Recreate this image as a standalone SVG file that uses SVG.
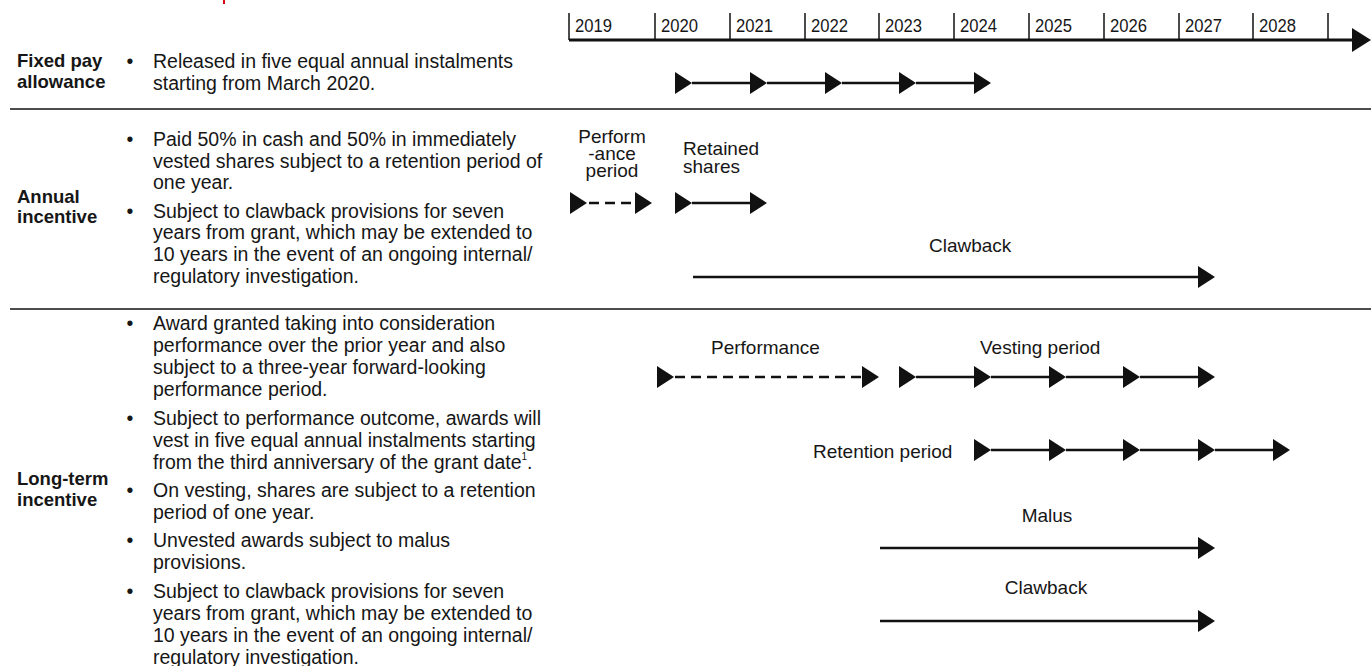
<svg xmlns="http://www.w3.org/2000/svg" xmlns:xlink="http://www.w3.org/1999/xlink" width="1371" height="666" viewBox="0 0 1371 666">
<style>
text{font-family:"Liberation Sans",Arial,Helvetica,sans-serif;fill:#161616}
.b{font-size:19.5px}
.h{font-size:18.5px;font-weight:bold}
.l{font-size:19px}
.y{font-size:18px}
.sep{stroke:#4d4d4d;stroke-width:2}
.ax{stroke:#111;stroke-width:3;fill:none}
.tk{stroke:#111;stroke-width:1.5}
.ln{stroke:#111;stroke-width:2.6;fill:none}
.ds{stroke:#111;stroke-width:2.6;fill:none;stroke-dasharray:10 6}
.hd{fill:#111}
</style>
<defs>
<path id="ah" d="M0,-11 L17,0 L0,11 Z"/>
</defs>
<rect x="223" y="0" width="2" height="4" fill="#db0011"/>
<g id="timeline">
<line class="ax" x1="569" y1="40" x2="1354" y2="40"/>
<polygon class="hd" points="1352,28 1371,40 1352,52"/>
<g class="tk">
<line x1="569" y1="13" x2="569" y2="40"/><line x1="655" y1="13" x2="655" y2="40"/><line x1="730" y1="13" x2="730" y2="40"/><line x1="805" y1="13" x2="805" y2="40"/><line x1="879" y1="13" x2="879" y2="40"/><line x1="954" y1="13" x2="954" y2="40"/><line x1="1029" y1="13" x2="1029" y2="40"/><line x1="1104" y1="13" x2="1104" y2="40"/><line x1="1179" y1="13" x2="1179" y2="40"/><line x1="1253" y1="13" x2="1253" y2="40"/><line x1="1328" y1="13" x2="1328" y2="40"/>
</g>
<g class="y">
<text x="575" y="32" textLength="37" lengthAdjust="spacingAndGlyphs">2019</text>
<text x="661" y="32" textLength="37" lengthAdjust="spacingAndGlyphs">2020</text>
<text x="736" y="32" textLength="37" lengthAdjust="spacingAndGlyphs">2021</text>
<text x="811" y="32" textLength="37" lengthAdjust="spacingAndGlyphs">2022</text>
<text x="885" y="32" textLength="37" lengthAdjust="spacingAndGlyphs">2023</text>
<text x="960" y="32" textLength="37" lengthAdjust="spacingAndGlyphs">2024</text>
<text x="1035" y="32" textLength="37" lengthAdjust="spacingAndGlyphs">2025</text>
<text x="1110" y="32" textLength="37" lengthAdjust="spacingAndGlyphs">2026</text>
<text x="1185" y="32" textLength="37" lengthAdjust="spacingAndGlyphs">2027</text>
<text x="1259" y="32" textLength="37" lengthAdjust="spacingAndGlyphs">2028</text>
</g>
</g>
<line class="sep" x1="10" y1="109" x2="1371" y2="109"/>
<line class="sep" x1="10" y1="309" x2="1371" y2="309"/>
<g id="fixed-pay">
<text class="h" x="17" y="67">Fixed pay</text>
<text class="h" x="17" y="88">allowance</text>
<text class="b" x="130" y="68" text-anchor="middle">•</text>
<text class="b" x="153" y="68">Released in five equal annual instalments</text>
<text class="b" x="153" y="90">starting from March 2020.</text>
</g>
<g id="annual-incentive">
<text class="h" x="17" y="203">Annual</text>
<text class="h" x="17" y="223">incentive</text>
<text class="b" x="130" y="146" text-anchor="middle">•</text>
<text class="b" x="153" y="146">Paid 50% in cash and 50% in immediately</text>
<text class="b" x="153" y="167.5">vested shares subject to a retention period of</text>
<text class="b" x="153" y="189">one year.</text>
<text class="b" x="130" y="217.5" text-anchor="middle">•</text>
<text class="b" x="153" y="217.5">Subject to clawback provisions for seven</text>
<text class="b" x="153" y="239">years from grant, which may be extended to</text>
<text class="b" x="153" y="261">10 years in the event of an ongoing internal/</text>
<text class="b" x="153" y="282.5">regulatory investigation.</text>
<text class="l" x="612" y="143" text-anchor="middle">Perform</text>
<text class="l" x="612" y="160" text-anchor="middle">-ance</text>
<text class="l" x="612" y="177" text-anchor="middle">period</text>
<text class="l" x="683" y="155">Retained</text>
<text class="l" x="683" y="173">shares</text>
<text class="l" x="929" y="252">Clawback</text>
</g>
<g id="long-term-incentive">
<text class="h" x="17" y="485">Long-term</text>
<text class="h" x="17" y="506">incentive</text>
<text class="b" x="130" y="330" text-anchor="middle">•</text>
<text class="b" x="153" y="330">Award granted taking into consideration</text>
<text class="b" x="153" y="352">performance over the prior year and also</text>
<text class="b" x="153" y="374">subject to a three-year forward-looking</text>
<text class="b" x="153" y="396">performance period.</text>
<text class="b" x="130" y="425" text-anchor="middle">•</text>
<text class="b" x="153" y="425">Subject to performance outcome, awards will</text>
<text class="b" x="153" y="447">vest in five equal annual instalments starting</text>
<text class="b" x="153" y="469">from the third anniversary of the grant date<tspan font-size="10" dy="-9">1</tspan><tspan dy="9">.</tspan></text>
<text class="b" x="130" y="497" text-anchor="middle">•</text>
<text class="b" x="153" y="497">On vesting, shares are subject to a retention</text>
<text class="b" x="153" y="519">period of one year.</text>
<text class="b" x="130" y="547" text-anchor="middle">•</text>
<text class="b" x="153" y="547">Unvested awards subject to malus</text>
<text class="b" x="153" y="568.5">provisions.</text>
<text class="b" x="130" y="598" text-anchor="middle">•</text>
<text class="b" x="153" y="598">Subject to clawback provisions for seven</text>
<text class="b" x="153" y="620">years from grant, which may be extended to</text>
<text class="b" x="153" y="642">10 years in the event of an ongoing internal/</text>
<text class="b" x="153" y="663.5">regulatory investigation.</text>
<text class="l" x="711" y="354">Performance</text>
<text class="l" x="980" y="354">Vesting period</text>
<text class="l" x="813" y="458">Retention period</text>
<text class="l" x="1047" y="522" text-anchor="middle">Malus</text>
<text class="l" x="1046" y="594" text-anchor="middle">Clawback</text>
</g>
<g id="connectors">
<g class="ln">
<line x1="692" y1="83" x2="750" y2="83"/><line x1="767" y1="83" x2="825" y2="83"/><line x1="842" y1="83" x2="899" y2="83"/><line x1="916" y1="83" x2="974" y2="83"/>
<line x1="692" y1="203" x2="750" y2="203"/>
<line x1="693" y1="277" x2="1199" y2="277"/>
<line x1="916" y1="377" x2="974" y2="377"/><line x1="991" y1="377" x2="1049" y2="377"/><line x1="1066" y1="377" x2="1123" y2="377"/><line x1="1140" y1="377" x2="1198" y2="377"/>
<line x1="991" y1="450" x2="1049" y2="450"/><line x1="1066" y1="450" x2="1123" y2="450"/><line x1="1140" y1="450" x2="1198" y2="450"/><line x1="1215" y1="450" x2="1273" y2="450"/>
<line x1="880" y1="548" x2="1198" y2="548"/>
<line x1="880" y1="621" x2="1198" y2="621"/>
</g>
<line class="ds" x1="589" y1="203" x2="635" y2="203"/>
<line class="ds" x1="675" y1="377" x2="862" y2="377"/>
<g class="hd">
<use xlink:href="#ah" x="675" y="83"/><use xlink:href="#ah" x="750" y="83"/><use xlink:href="#ah" x="825" y="83"/><use xlink:href="#ah" x="899" y="83"/><use xlink:href="#ah" x="974" y="83"/>
<use xlink:href="#ah" x="570" y="203"/><use xlink:href="#ah" x="635" y="203"/>
<use xlink:href="#ah" x="675" y="203"/><use xlink:href="#ah" x="750" y="203"/>
<use xlink:href="#ah" x="1198" y="277"/>
<use xlink:href="#ah" x="657" y="377"/><use xlink:href="#ah" x="862" y="377"/>
<use xlink:href="#ah" x="899" y="377"/><use xlink:href="#ah" x="974" y="377"/><use xlink:href="#ah" x="1049" y="377"/><use xlink:href="#ah" x="1123" y="377"/><use xlink:href="#ah" x="1198" y="377"/>
<use xlink:href="#ah" x="974" y="450"/><use xlink:href="#ah" x="1049" y="450"/><use xlink:href="#ah" x="1123" y="450"/><use xlink:href="#ah" x="1198" y="450"/><use xlink:href="#ah" x="1273" y="450"/>
<use xlink:href="#ah" x="1198" y="548"/>
<use xlink:href="#ah" x="1198" y="621"/>
</g>
</g>
</svg>
